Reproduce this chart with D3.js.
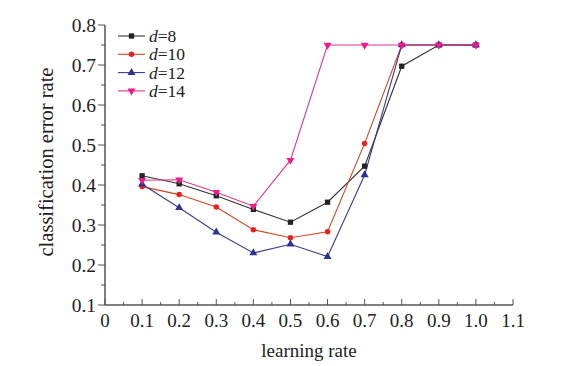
<!DOCTYPE html>
<html><head><meta charset="utf-8">
<script src="https://cdn.jsdelivr.net/npm/d3@7"></script>
<style>body{margin:0;background:#fff}svg{display:block}</style>
</head><body>
<script>
const learningRates = [0.1,0.2,0.3,0.4,0.5,0.6,0.7,0.8,0.9,1.0];
const d8  = [0.423,0.403,0.373,0.339,0.307,0.357,0.447,0.697,0.75,0.75];
const d10 = [0.396,0.376,0.345,0.288,0.268,0.283,0.504,0.75,0.75,0.75];
const d12 = [0.402,0.343,0.282,0.230,0.252,0.221,0.425,0.75,0.75,0.75];
const d14 = [0.412,0.413,0.382,0.347,0.462,0.75,0.75,0.75,0.75,0.75];
const seriesNames = ["8","10","12","14"];
const xTickLabels = ["0","0.1","0.2","0.3","0.4","0.5","0.6","0.7","0.8","0.9","1.0","1.1"];
const yTickLabels = ["0.1","0.2","0.3","0.4","0.5","0.6","0.7","0.8"];

const series = [
  {name:seriesNames[0], values:d8,  color:"#222222", line:"#333333", sym:d3.symbolSquare, rot:0},
  {name:seriesNames[1], values:d10, color:"#e8231e", line:"#d2461e", sym:d3.symbolCircle, rot:0},
  {name:seriesNames[2], values:d12, color:"#2e3192", line:"#3a3a8c", sym:d3.symbolTriangle, rot:0},
  {name:seriesNames[3], values:d14, color:"#ec1c8c", line:"#e0368a", sym:d3.symbolTriangle, rot:180}
];

const W=567,H=366;
const svg=d3.select("body").append("svg").attr("width",W).attr("height",H);
const x=d3.scaleLinear().domain([0,1.1]).range([105,513]);
const y=d3.scaleLinear().domain([0.1,0.8]).range([305,25]);
const font="'Liberation Serif','Times New Roman',serif";
const axisCol="#555";

// x axis (ticks inward)
const gx=svg.append("g").attr("transform","translate(0,305)");
gx.append("line").attr("x1",105).attr("x2",513).attr("stroke",axisCol).attr("stroke-width",1.5);
const xMinor=d3.range(0,23).map(i=>i*0.05);
gx.selectAll("line.t").data(xMinor).join("line").attr("class","t")
  .attr("x1",d=>x(d)).attr("x2",d=>x(d)).attr("y1",0)
  .attr("y2",(d,i)=>i%2===0?-6:-3).attr("stroke",axisCol).attr("stroke-width",1);
gx.selectAll("text").data(xTickLabels).join("text")
  .attr("x",(d,i)=>x(i*0.1)).attr("y",22).attr("text-anchor","middle")
  .attr("font-family",font).attr("font-size",19).attr("fill","#222").text(d=>d);

// y axis (ticks outward)
const gy=svg.append("g");
gy.append("line").attr("x1",105).attr("x2",105).attr("y1",305).attr("y2",25).attr("stroke",axisCol).attr("stroke-width",1.5);
const yMinor=d3.range(0,15).map(i=>0.1+i*0.05);
gy.selectAll("line.t").data(yMinor).join("line").attr("class","t")
  .attr("y1",d=>y(d)).attr("y2",d=>y(d)).attr("x1",105)
  .attr("x2",(d,i)=>i%2===0?98:101).attr("stroke",axisCol).attr("stroke-width",1);
gy.selectAll("text").data(yTickLabels).join("text")
  .attr("x",96).attr("y",(d,i)=>y(0.1+i*0.1)+6.5).attr("text-anchor","end")
  .attr("font-family",font).attr("font-size",19.5).attr("fill","#222").text(d=>d);

// titles
svg.append("text").attr("x",309).attr("y",357).attr("text-anchor","middle")
  .attr("font-family",font).attr("font-size",19).attr("fill","#222").text("learning rate");
svg.append("text").attr("transform","translate(53,162) rotate(-90)").attr("text-anchor","middle")
  .attr("font-family",font).attr("font-size",20.5).attr("fill","#222").text("classification error rate");

// lines
const line=d3.line().x((d,i)=>x(learningRates[i])).y(d=>y(d));
series.forEach(s=>{
  svg.append("path").attr("d",line(s.values)).attr("fill","none").attr("stroke",s.line).attr("stroke-width",1.1);
});
series.forEach(s=>{
  const sym=d3.symbol().type(s.sym).size(s.sym===d3.symbolCircle?24:28);
  svg.selectAll(null).data(s.values).join("path")
    .attr("d",sym)
    .attr("transform",(d,i)=>`translate(${x(learningRates[i])},${y(d)}) rotate(${s.rot})`)
    .attr("fill",s.color);
});

// legend
const lg=svg.append("g");
series.forEach((s,i)=>{
  const yy=36+i*18.3;
  lg.append("line").attr("x1",118).attr("x2",145).attr("y1",yy).attr("y2",yy).attr("stroke",s.line).attr("stroke-width",1.1);
  const sym=d3.symbol().type(s.sym).size(s.sym===d3.symbolCircle?24:28);
  lg.append("path").attr("d",sym).attr("transform",`translate(131.5,${yy}) rotate(${s.rot})`).attr("fill",s.color);
  const t=lg.append("text").attr("x",149).attr("y",yy+6).attr("font-family",font).attr("font-size",17.5).attr("fill","#222");
  t.append("tspan").attr("font-style","italic").text("d");
  t.append("tspan").text("="+s.name);
});
</script>
</body></html>
